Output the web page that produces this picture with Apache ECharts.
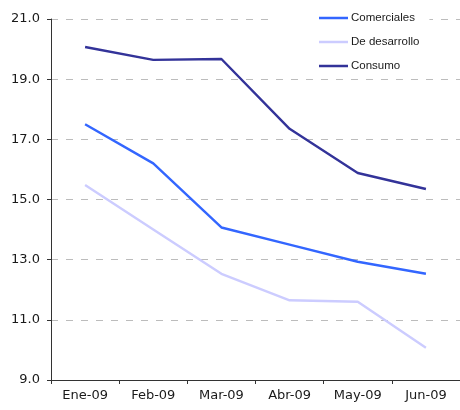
<!DOCTYPE html>
<html>
<head>
<meta charset="utf-8">
<script src="https://cdn.jsdelivr.net/npm/echarts@6/dist/echarts.min.js"></script>
<style>
  html, body { margin: 0; padding: 0; background: #ffffff; }
  #chart { width: 460px; height: 410px; }
</style>
</head>
<body>
<div id="chart"></div>
<script>
// Monthly rates by credit type, 2009
const months = ['Ene-09', 'Feb-09', 'Mar-09', 'Abr-09', 'May-09', 'Jun-09'];
const comerciales = [17.5, 16.2, 14.07, 13.5, 12.93, 12.53];
const desarrollo = [15.48, 14.0, 12.53, 11.65, 11.6, 10.07];
const consumo = [20.07, 19.64, 19.67, 17.35, 15.88, 15.35];

const axisFont = { fontFamily: 'DejaVu Sans', fontSize: 13, color: '#1a1a1a' };

function lineSeries(name, data, color) {
  return {
    name: name,
    type: 'line',
    data: data,
    symbol: 'none',
    lineStyle: { color: color, width: 2.4 },
    itemStyle: { color: color },
    animation: false
  };
}

const chart = echarts.init(document.getElementById('chart'), null, { renderer: 'canvas' });
chart.setOption({
  animation: false,
  backgroundColor: '#ffffff',
  grid: { left: 51, right: 0, top: 19, bottom: 30 },
  legend: {
    left: 269,
    top: 3,
    orient: 'vertical',
    backgroundColor: '#ffffff',
    padding: [8, 10, 6, 50],
    itemWidth: 29,
    itemHeight: 2.5,
    itemGap: 10,
    icon: 'rect',
    textStyle: { fontFamily: 'Liberation Sans', fontSize: 11.5, color: '#1a1a1a', lineHeight: 14, padding: [0, 0, 0, -2] },
    data: ['Comerciales', 'De desarrollo', 'Consumo']
  },
  xAxis: {
    type: 'category',
    data: months,
    boundaryGap: true,
    axisLine: { lineStyle: { color: '#333333', width: 1 } },
    axisTick: { show: true, length: 4, lineStyle: { color: '#333333' } },
    axisLabel: Object.assign({ margin: 9 }, axisFont),
    splitLine: { show: false }
  },
  yAxis: {
    type: 'value',
    min: 9,
    max: 21,
    interval: 2,
    axisLine: { show: true, lineStyle: { color: '#333333', width: 1 } },
    axisTick: { show: true, length: 4, lineStyle: { color: '#333333' } },
    axisLabel: Object.assign({ margin: 11, formatter: v => v.toFixed(1) }, axisFont),
    splitLine: { show: true, lineStyle: { color: '#bcbcbc', type: [7, 8], width: 1 } }
  },
  series: [
    lineSeries('Comerciales', comerciales, '#3366ff'),
    lineSeries('De desarrollo', desarrollo, '#ccccff'),
    lineSeries('Consumo', consumo, '#333399')
  ]
});
</script>
</body>
</html>
